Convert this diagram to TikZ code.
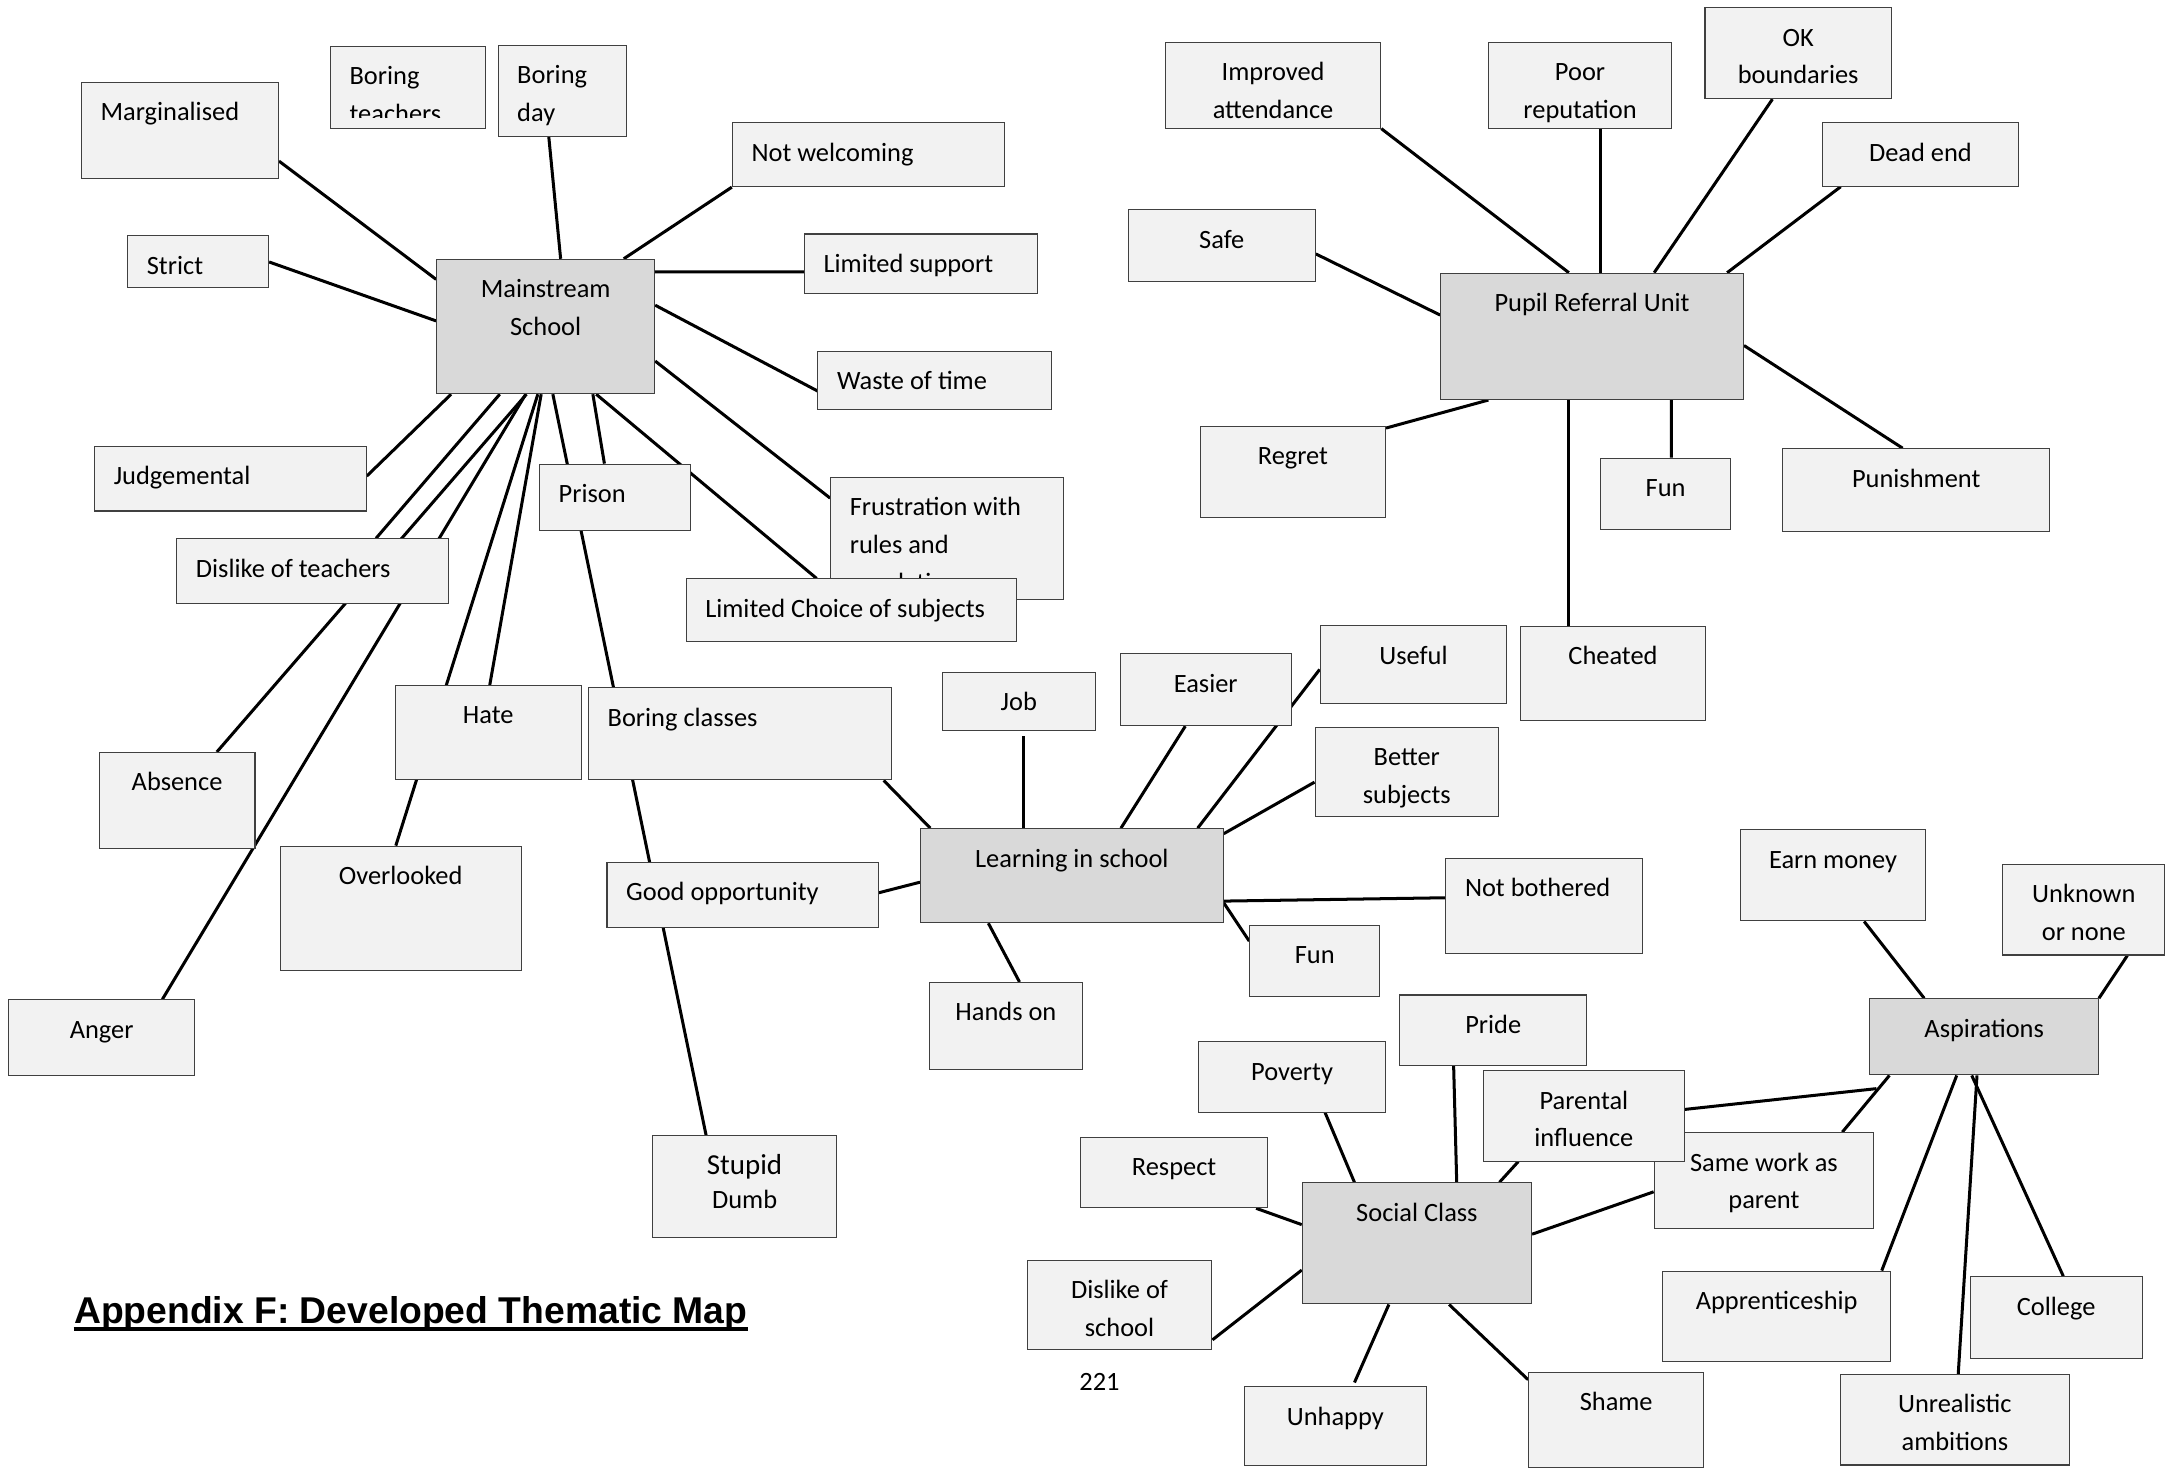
\documentclass[tikz,border=0pt]{standalone}
\usepackage{fontspec}
\setmainfont{Carlito}
\newfontfamily\titlefont{Liberation Sans}
\usetikzlibrary{calc, fit}

\definecolor{boxgray}{HTML}{F2F2F2}
\definecolor{hubgray}{HTML}{D9D9D9}
\definecolor{edgegray}{HTML}{404040}

\pgfdeclarelayer{background}
\pgfsetlayers{background,main}

\tikzset{
	box/.style={draw=edgegray, line width=0.45pt, fill=boxgray, inner sep=0pt},
	hub/.style={box, fill=hubgray},
	lbl/.style={font=\fontsize{11.4}{16.3}\selectfont, inner xsep=8.3pt, inner ysep=5.2pt},
	ctext/.style={label={[lbl, anchor=north, align=center]north:\strut #1}},
	ltext/.style={label={[lbl, anchor=north west, align=left]north west:\strut #1}},
	link/.style={line width=1.3pt},
}

\begin{document}
\begin{tikzpicture}[x=0.6pt, y=-0.6pt]
			\useasboundingbox (0,0) rectangle (1568,1059);

			% mainstream school
			\begin{scope}
				\node [hub, fit={(314.2,186.6) (471.1,283.3)}, ctext={Mainstream\\School}] (ms) {};
				\node [box, fit={(58.6,59.4) (200.4,128.5)}, ltext=Marginalised] (marg) {};
				\node [box, fit={(237.8,33.4) (349.3,92.2)}] (bteach) {};
				\begin{scope}
					\clip (bteach.north west) rectangle ($(bteach.south east)+(0,-8)$);
					\node [lbl, anchor=north west, align=left] (bteachtxt) at (bteach.north west) {\strut Boring\\teachers};
				\end{scope}
				\node [box, fit={(358.4,32.8) (450.8,98.3)}, ltext={Boring\\day}] (bday) {};
				\node [box, fit={(527,88.3) (723,134.3)}, ltext=Not welcoming] (notwel) {};
				\node [box, fit={(91.9,169.6) (193.3,207.2)}, ltext=Strict] (strict) {};
				\node [box, fit={(578.8,168.4) (746.6,211)}, ltext=Limited support] (lsup) {};
				\node [box, fit={(588.6,252.8) (756.7,294.9)}, ltext=Waste of time] (waste) {};
				\node [box, fit={(68.1,321) (263.5,367.7)}, ltext=Judgemental] (judg) {};
				\node [box, fit={(388.2,334) (496.7,381.4)}, ltext=Prison] (prison) {};
				\node [box, fit={(127.2,387.7) (322.6,434.6)}, ltext=Dislike of teachers] (disl) {};
				\node [box, fit={(597.7,343.4) (765.3,431.4)}, ltext={Frustration with\\rules and\\regulations}] (frus) {};
				\node [box, fit={(493.7,416.6) (731.4,461.6)}, ltext=Limited Choice of subjects] (lchoice) {};
				\node [box, fit={(284.4,493.3) (418.2,561.2)}, ctext=Hate] (hate) {};
				\node [box, fit={(423.5,494.8) (641.6,561.2)}, ltext=Boring classes] (bclass) {};
				\node [box, fit={(71.3,541.5) (183.5,610.3)}, ctext=Absence] (absence) {};
				\node [box, fit={(201.6,608.9) (375,698.7)}, ctext=Overlooked] (overl) {};
				\node [box, fit={(6.2,719.5) (140.1,774)}, ctext=Anger] (anger) {};
				\node [box, fit={(436.8,620.7) (632,667.4)}, ltext=Good opportunity] (goodopp) {};
				\node [box, fit={(469.4,817.4) (602.2,890.8)}, ctext={{\fontsize{12.5}{15}\selectfont Stupid}\\[-1.5pt]Dumb}] (stupid) {};
			\end{scope}

			% pupil referral unit
			\begin{scope}
				\node [hub, fit={(1036.7,196.6) (1254.6,287.5)}, ctext=Pupil Referral Unit] (pru) {};
				\node [box, fit={(838.6,30.5) (993.6,92.2)}, ctext={Improved\\attendance}] (impr) {};
				\node [box, fit={(1070.9,30.5) (1203.1,92.2)}, ctext={Poor\\reputation}] (poor) {};
				\node [box, fit={(1226.9,5.5) (1361,71)}, ctext={OK\\boundaries}] (okb) {};
				\node [box, fit={(1311.1,88.3) (1452.7,134)}, ctext=Dead end] (dead) {};
				\node [box, fit={(811.8,151) (946.5,202.7)}, ctext=Safe] (safe) {};
				\node [box, fit={(863.8,306.8) (997,372.7)}, ctext=Regret] (regret) {};
				\node [box, fit={(1152,329.6) (1245.2,381)}, ctext=Fun] (pfun) {};
				\node [box, fit={(1282.8,322.9) (1475,382.3)}, ctext=Punishment] (punish) {};
				\node [box, fit={(1094.1,450.5) (1227.3,518.5)}, ctext=Cheated] (cheat) {};
			\end{scope}

			% learning in school
			\begin{scope}
				\node [hub, fit={(662.4,596.3) (880.2,664)}, ctext=Learning in school] (lis) {};
				\node [box, fit={(677.9,483.6) (788.3,525.7)}, ctext=Job] (job) {};
				\node [box, fit={(806.2,470.5) (929.1,522.2)}, ctext=Easier] (easier) {};
				\node [box, fit={(950,450.2) (1084.2,506.5)}, ctext=Useful] (useful) {};
				\node [box, fit={(946.3,523.3) (1078.3,587.7)}, ctext={Better\\subjects}] (better) {};
				\node [box, fit={(1040.4,617.6) (1182.2,686.4)}, ltext=Not bothered] (notb) {};
				\node [box, fit={(899.3,666) (992.8,717.2)}, ctext=Fun] (lfun) {};
				\node [box, fit={(668.8,707) (778.9,769.5)}, ctext=Hands on] (hands) {};
			\end{scope}

			% social class and aspirations
			\begin{scope}
				\node [hub, fit={(937.1,851.1) (1102.1,938.3)}, ctext=Social Class] (sc) {};
				\node [hub, fit={(1345.6,718.7) (1510,773.5)}, ctext=Aspirations] (asp) {};
				\node [box, fit={(1252.5,597.2) (1385.6,662.7)}, ctext=Earn money] (earn) {};
				\node [box, fit={(1441.3,622) (1557.7,687.2)}, ctext={Unknown\\or none}] (unknown) {};
				\node [box, fit={(1007.4,716) (1141.6,766.8)}, ctext=Pride] (pride) {};
				\node [box, fit={(862.4,749.6) (997.1,800.3)}, ctext=Poverty] (poverty) {};
				\node [box, fit={(1190.3,815) (1348.3,883.9)}, ctext={Same work as\\parent}] (same) {};
				\node [box, fit={(1067.5,770.4) (1212,835.5)}, ctext={Parental\\influence}] (parental) {};
				\node [box, fit={(777.5,818.3) (912.2,869.1)}, ctext=Respect] (respect) {};
				\node [box, fit={(739.1,906.7) (872.1,971.4)}, ctext={Dislike of\\school}] (dschool) {};
				\node [box, fit={(1196.2,914.7) (1360.7,979.9)}, ctext=Apprenticeship] (appr) {};
				\node [box, fit={(1417.6,918.7) (1541.5,977.4)}, ctext=College] (college) {};
				\node [box, fit={(895.4,997.8) (1026.3,1054.6)}, ctext=Unhappy] (unhappy) {};
				\node [box, fit={(1100,987.4) (1226,1055.7)}, ctext=Shame] (shame) {};
				\node [box, fit={(1324.5,989) (1488.9,1054.2)}, ctext={Unrealistic\\ambitions}] (unreal) {};
			\end{scope}

			\begin{scope}
				\node [anchor=base west, inner sep=0pt, font=\titlefont\bfseries\fontsize{16.1}{19}\selectfont] (title) at (53,952.2) {Appendix F: Developed Thematic Map};
				\draw [line width=1.4pt] ($(title.base west)+(0,4.2)$) -- ($(title.base east)+(0,4.2)$);
				\node [anchor=base, inner sep=0pt, font=\fontsize{11.4}{15.8}\selectfont] (page) at (791.2,1000.4) {221};
			\end{scope}

			\begin{pgfonlayer}{background}
				\fill [white] (0,0) rectangle (1568,1059);

				\begin{scope}[link]
					\draw ($(ms.north west)+(0,14.8)$) -- ($(marg.north east)+(0,56.9)$);
					\draw ($(ms.north west)+(0,44.7)$) -- ($(strict.north east)+(0,19.3)$);
					\draw ($(ms.north west)+(89.6,0)$) -- ($(bday.south west)+(36.9,0)$);
					\draw ($(ms.north west)+(135,0)$) -- (notwel.south west);
					\draw ($(ms.north east)+(0,9.4)$) -- ($(lsup.north west)+(0,27.6)$);
					\draw ($(ms.north east)+(0,33.4)$) -- ($(waste.north west)+(0,28.9)$);
					\draw ($(ms.north east)+(0,73.6)$) -- ($(frus.north west)+(0,15.4)$);
					\draw ($(ms.south west)+(10.8,0)$) -- ($(judg.north east)+(0,22)$);
					\draw ($(ms.south west)+(45.8,0)$) -- ($(disl.north west)+(143.8,0)$);
					\draw ($(ms.south west)+(65,0)$) -- ($(absence.north west)+(85.1,0)$);
					\draw ($(ms.south west)+(64.5,0)$) -- ($(anger.north west)+(111,0)$);
					\draw ($(ms.south west)+(75.6,0)$) -- ($(hate.north west)+(68.4,0)$);
					\draw ($(ms.south west)+(73.2,0)$) -- ($(overl.north west)+(83.6,0)$);
					\draw ($(ms.south west)+(84,0)$) -- ($(stupid.north west)+(39.1,0)$);
					\draw ($(ms.south west)+(112.8,0)$) -- ($(prison.north west)+(47.1,0)$);
					\draw ($(ms.south west)+(115.2,0)$) -- ($(lchoice.north west)+(94.3,0)$);
				\end{scope}

				\begin{scope}[link]
					\draw ($(pru.north west)+(92.6,0)$) -- (impr.south east);
					\draw ($(pru.north west)+(115.3,0)$) -- ($(poor.south west)+(81.1,0)$);
					\draw ($(pru.north west)+(154,0)$) -- ($(okb.south west)+(48.9,0)$);
					\draw ($(pru.north west)+(206.5,0)$) -- ($(dead.south west)+(13.8,0)$);
					\draw ($(pru.north west)+(0,30.5)$) -- ($(safe.north east)+(0,32.1)$);
					\draw ($(pru.south west)+(34.7,0)$) -- ($(regret.north east)+(0,1.6)$);
					\draw ($(pru.south west)+(92.6,0)$) -- ($(cheat.north west)+(35.2,0)$);
					\draw ($(pru.south west)+(166.4,0)$) -- ($(pfun.north west)+(51.1,0)$);
					\draw ($(pru.north east)+(0,52.4)$) -- ($(punish.north west)+(86.7,0)$);
				\end{scope}

				\begin{scope}[link]
					\draw ($(lis.north west)+(7.4,0)$) -- ($(bclass.south east)+(-6.1,0)$);
					\draw [shorten >=2.2pt] ($(lis.north west)+(74.5,0)$) -- ($(job.south west)+(59,0)$);
					\draw ($(lis.north west)+(144.6,0)$) -- ($(easier.south west)+(47.1,0)$);
					\draw ($(lis.north west)+(199.8,0)$) -- ($(useful.north west)+(0,31.9)$);
					\draw ($(lis.north east)+(0,4)$) -- ($(better.north west)+(0,39.9)$);
					\draw ($(lis.north west)+(0,38.9)$) -- ($(goodopp.north east)+(0,22.1)$);
					\draw ($(lis.north east)+(0,52.5)$) -- ($(notb.north west)+(0,28.8)$);
					\draw ($(lis.north east)+(0,53.7)$) -- ($(lfun.north west)+(0,11.6)$);
					\draw ($(lis.south west)+(49.2,0)$) -- ($(hands.north west)+(65.2,0)$);
				\end{scope}

				\begin{scope}[link]
					\draw ($(sc.north west)+(37.9,0)$) -- ($(poverty.south west)+(91.5,0)$);
					\draw ($(sc.north west)+(111.5,0)$) -- ($(pride.south west)+(39,0)$);
					\draw ($(sc.north west)+(142.3,0)$) -- ($(parental.south west)+(25.4,0)$);
					\draw ($(sc.north east)+(0,37.4)$) -- ($(same.north west)+(0,43)$);
					\draw ($(sc.north west)+(0,30.5)$) -- ($(respect.south east)+(-8.7,0)$);
					\draw ($(sc.north west)+(0,63.2)$) -- ($(dschool.north east)+(0,57.8)$);
					\draw [shorten >=1.7pt] ($(sc.south west)+(62.7,0)$) -- ($(unhappy.north west)+(78.5,0)$);
					\draw ($(sc.south west)+(106,0)$) -- ($(shame.north west)+(0,5.8)$);
				\end{scope}

				\begin{scope}[link]
					\draw ($(asp.north west)+(39.4,0)$) -- ($(earn.south west)+(89.3,0)$);
					\draw (asp.north east) -- ($(unknown.south west)+(89.9,0)$);
					\draw ($(parental.north east)+(0,28.3)$) -- ($(asp.south west)+(5,9.5)$);
					\draw ($(asp.south west)+(14.4,0)$) -- ($(same.north west)+(135.8,0)$);
					\draw ($(asp.south west)+(62.8,0)$) -- ($(appr.north east)+(-7,0)$);
					\draw ($(asp.south west)+(77.4,0)$) -- ($(unreal.north west)+(85,0)$);
					\draw ($(asp.south west)+(73.6,0)$) -- ($(college.north west)+(67.5,0)$);
				\end{scope}
			\end{pgfonlayer}
		\end{tikzpicture}
\end{document}
